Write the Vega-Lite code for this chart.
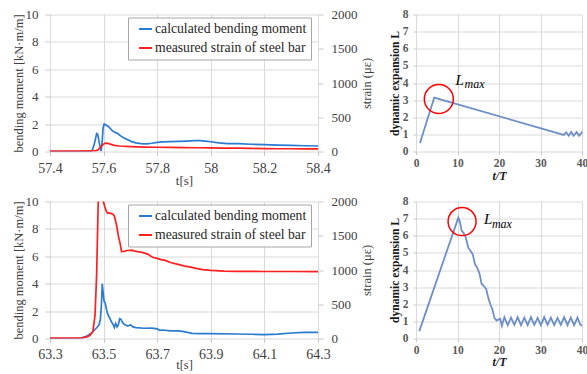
{
  "$schema": "https://vega.github.io/schema/vega-lite/v6.json",
  "background": "white",
  "padding": {"left": 11, "top": 8.5, "right": 0, "bottom": 0},
  "bounds": "flush",
  "align": "each",
  "columns": 2,
  "spacing": {"row": 50, "column": 98},
  "config": {
    "view": {"stroke": null},
    "font": "Liberation Serif",
    "text": {"font": "Liberation Serif"},
    "legend": {"labelFont": "Liberation Serif", "titleFont": "Liberation Serif"},
    "axis": {
      "labelFont": "Liberation Serif",
      "titleFont": "Liberation Serif",
      "gridColor": "#d9d9d9",
      "gridWidth": 1,
      "domain": false,
      "tickColor": "#c8c8c8",
      "tickSize": 4,
      "labelOverlap": false,
      "labelFlush": false,
      "titleFontWeight": "normal",
      "labelColor": "#404040",
      "titleColor": "#404040"
    }
  },
  "datasets": {
    "tl_m": [
      {"t": 57.40, "m": 0}, {"t": 57.50, "m": 0}, {"t": 57.552, "m": 0}, {"t": 57.558, "m": 0.1},
      {"t": 57.564, "m": 0.45}, {"t": 57.569, "m": 0.85}, {"t": 57.574, "m": 1.3}, {"t": 57.578, "m": 1.25},
      {"t": 57.582, "m": 0.85}, {"t": 57.587, "m": 0.3}, {"t": 57.591, "m": 0.02}, {"t": 57.595, "m": 0.8},
      {"t": 57.598, "m": 1.7}, {"t": 57.602, "m": 2.0}, {"t": 57.607, "m": 1.97}, {"t": 57.612, "m": 1.88},
      {"t": 57.618, "m": 1.82}, {"t": 57.625, "m": 1.68}, {"t": 57.632, "m": 1.52}, {"t": 57.64, "m": 1.42},
      {"t": 57.648, "m": 1.36}, {"t": 57.656, "m": 1.26}, {"t": 57.665, "m": 1.12}, {"t": 57.675, "m": 1.0},
      {"t": 57.69, "m": 0.86}, {"t": 57.705, "m": 0.72}, {"t": 57.72, "m": 0.63}, {"t": 57.74, "m": 0.58},
      {"t": 57.76, "m": 0.55}, {"t": 57.78, "m": 0.6}, {"t": 57.80, "m": 0.66}, {"t": 57.82, "m": 0.7},
      {"t": 57.85, "m": 0.72}, {"t": 57.88, "m": 0.74}, {"t": 57.91, "m": 0.76}, {"t": 57.94, "m": 0.79},
      {"t": 57.96, "m": 0.8}, {"t": 57.98, "m": 0.76}, {"t": 58.00, "m": 0.71}, {"t": 58.03, "m": 0.63},
      {"t": 58.06, "m": 0.58}, {"t": 58.10, "m": 0.57}, {"t": 58.15, "m": 0.53}, {"t": 58.20, "m": 0.5},
      {"t": 58.25, "m": 0.47}, {"t": 58.30, "m": 0.45}, {"t": 58.35, "m": 0.42}, {"t": 58.40, "m": 0.4}
    ],
    "tl_s": [
      {"t": 57.40, "s": 5}, {"t": 57.50, "s": 5}, {"t": 57.568, "s": 8}, {"t": 57.578, "s": 20},
      {"t": 57.588, "s": 60}, {"t": 57.597, "s": 100}, {"t": 57.606, "s": 122}, {"t": 57.616, "s": 118},
      {"t": 57.628, "s": 104}, {"t": 57.64, "s": 90}, {"t": 57.66, "s": 80}, {"t": 57.70, "s": 72},
      {"t": 57.75, "s": 65}, {"t": 57.80, "s": 62}, {"t": 57.85, "s": 60}, {"t": 57.90, "s": 56},
      {"t": 57.95, "s": 55}, {"t": 58.00, "s": 52}, {"t": 58.05, "s": 50}, {"t": 58.10, "s": 48},
      {"t": 58.15, "s": 45}, {"t": 58.20, "s": 42}, {"t": 58.25, "s": 40}, {"t": 58.30, "s": 40},
      {"t": 58.35, "s": 38}, {"t": 58.40, "s": 38}
    ],
    "bl_m": [
      {"t": 63.30, "m": 0}, {"t": 63.40, "m": 0}, {"t": 63.42, "m": 0.05}, {"t": 63.44, "m": 0.2},
      {"t": 63.455, "m": 0.4}, {"t": 63.465, "m": 0.6}, {"t": 63.475, "m": 0.8}, {"t": 63.483, "m": 1.0},
      {"t": 63.488, "m": 1.4}, {"t": 63.492, "m": 2.5}, {"t": 63.495, "m": 4.0}, {"t": 63.499, "m": 3.2},
      {"t": 63.502, "m": 2.7}, {"t": 63.506, "m": 2.6}, {"t": 63.51, "m": 2.2}, {"t": 63.515, "m": 1.8},
      {"t": 63.52, "m": 1.6}, {"t": 63.525, "m": 1.4}, {"t": 63.53, "m": 1.2}, {"t": 63.536, "m": 1.0},
      {"t": 63.54, "m": 0.8}, {"t": 63.545, "m": 1.1}, {"t": 63.55, "m": 0.85}, {"t": 63.555, "m": 1.0},
      {"t": 63.56, "m": 1.45}, {"t": 63.565, "m": 1.4}, {"t": 63.57, "m": 1.2}, {"t": 63.575, "m": 1.05},
      {"t": 63.58, "m": 1.0}, {"t": 63.59, "m": 0.9}, {"t": 63.60, "m": 1.0}, {"t": 63.61, "m": 0.85},
      {"t": 63.62, "m": 0.8}, {"t": 63.65, "m": 0.75}, {"t": 63.68, "m": 0.76}, {"t": 63.70, "m": 0.7},
      {"t": 63.71, "m": 0.6}, {"t": 63.72, "m": 0.62}, {"t": 63.75, "m": 0.55}, {"t": 63.78, "m": 0.55},
      {"t": 63.80, "m": 0.5}, {"t": 63.83, "m": 0.38}, {"t": 63.86, "m": 0.35}, {"t": 63.90, "m": 0.35},
      {"t": 64.00, "m": 0.33}, {"t": 64.05, "m": 0.31}, {"t": 64.10, "m": 0.28}, {"t": 64.15, "m": 0.32},
      {"t": 64.20, "m": 0.4}, {"t": 64.25, "m": 0.45}, {"t": 64.30, "m": 0.44}
    ],
    "bl_s": [
      {"t": 63.30, "s": 5}, {"t": 63.40, "s": 5}, {"t": 63.42, "s": 8}, {"t": 63.44, "s": 25},
      {"t": 63.45, "s": 50}, {"t": 63.46, "s": 100}, {"t": 63.468, "s": 340}, {"t": 63.474, "s": 930},
      {"t": 63.48, "s": 2000}, {"t": 63.49, "s": 2700}, {"t": 63.499, "s": 2000}, {"t": 63.504, "s": 1930},
      {"t": 63.51, "s": 1860}, {"t": 63.515, "s": 1830}, {"t": 63.525, "s": 1830}, {"t": 63.535, "s": 1815},
      {"t": 63.54, "s": 1790}, {"t": 63.548, "s": 1660}, {"t": 63.556, "s": 1480}, {"t": 63.561, "s": 1400},
      {"t": 63.567, "s": 1270}, {"t": 63.575, "s": 1272}, {"t": 63.59, "s": 1285}, {"t": 63.605, "s": 1290},
      {"t": 63.62, "s": 1272}, {"t": 63.64, "s": 1260}, {"t": 63.665, "s": 1232}, {"t": 63.675, "s": 1205},
      {"t": 63.685, "s": 1182}, {"t": 63.70, "s": 1170}, {"t": 63.715, "s": 1152}, {"t": 63.73, "s": 1140},
      {"t": 63.75, "s": 1110}, {"t": 63.77, "s": 1090}, {"t": 63.80, "s": 1060}, {"t": 63.82, "s": 1045},
      {"t": 63.85, "s": 1020}, {"t": 63.87, "s": 1005}, {"t": 63.90, "s": 995}, {"t": 63.95, "s": 985},
      {"t": 64.00, "s": 980}, {"t": 64.10, "s": 978}, {"t": 64.20, "s": 978}, {"t": 64.30, "s": 975}
    ],
    "tr": [
      {"x": 0.96, "L": 0.5}, {"x": 4.4, "L": 3.15}, {"x": 35.6, "L": 0.97}, {"x": 36.2, "L": 1.12},
      {"x": 36.8, "L": 0.92}, {"x": 37.4, "L": 1.14}, {"x": 38.0, "L": 0.92}, {"x": 38.7, "L": 1.14},
      {"x": 39.3, "L": 0.92}, {"x": 39.9, "L": 1.1}, {"x": 40, "L": 1.05}
    ],
    "br": [
      {"x": 0.8, "L": 0.43}, {"x": 10.2, "L": 7.06}, {"x": 10.6, "L": 6.8}, {"x": 11.0, "L": 6.3},
      {"x": 11.5, "L": 6.15}, {"x": 12.0, "L": 5.9}, {"x": 12.6, "L": 5.3}, {"x": 13.2, "L": 5.1},
      {"x": 13.7, "L": 4.9}, {"x": 14.2, "L": 4.35}, {"x": 14.8, "L": 4.1}, {"x": 15.3, "L": 3.8},
      {"x": 15.8, "L": 3.2}, {"x": 16.4, "L": 3.05}, {"x": 16.9, "L": 2.9}, {"x": 17.4, "L": 2.4},
      {"x": 17.9, "L": 2.0}, {"x": 18.4, "L": 1.7}, {"x": 18.9, "L": 1.2}, {"x": 19.4, "L": 1.05},
      {"x": 19.8, "L": 1.1}, {"x": 20.3, "L": 1.15}, {"x": 20.7, "L": 0.75}, {"x": 21.3, "L": 1.25},
      {"x": 22.1, "L": 0.78}, {"x": 22.9, "L": 1.22}, {"x": 23.7, "L": 0.8}, {"x": 24.5, "L": 1.25},
      {"x": 25.3, "L": 0.78}, {"x": 26.1, "L": 1.22}, {"x": 26.9, "L": 0.78}, {"x": 27.7, "L": 1.25},
      {"x": 28.5, "L": 0.8}, {"x": 29.3, "L": 1.2}, {"x": 30.1, "L": 0.78}, {"x": 30.9, "L": 1.25},
      {"x": 31.7, "L": 0.8}, {"x": 32.5, "L": 1.22}, {"x": 33.3, "L": 0.78}, {"x": 34.1, "L": 1.2},
      {"x": 34.9, "L": 0.8}, {"x": 35.7, "L": 1.25}, {"x": 36.5, "L": 0.78}, {"x": 37.3, "L": 1.22},
      {"x": 38.1, "L": 0.78}, {"x": 38.9, "L": 1.22}, {"x": 39.6, "L": 0.8}, {"x": 40, "L": 0.75}
    ],
    "tr_circle": [{"x": 5.5, "L": 3.07}],
    "tr_L": [{"x": 9.5, "L": 3.88, "label": "L"}],
    "tr_max": [{"x": 11.7, "L": 3.7, "label": "max"}],
    "br_circle": [{"x": 11.1, "L": 6.83}],
    "br_L": [{"x": 16.4, "L": 6.66, "label": "L"}],
    "br_max": [{"x": 18.3, "L": 6.48, "label": "max"}]
  },
  "resolve": {"scale": {"color": "independent"}, "legend": {"color": "independent"}},
  "concat": [
    {
      "width": 268, "height": 137,
      "layer": [
        {
          "data": {"name": "tl_m"},
          "mark": {"type": "line", "clip": true, "strokeWidth": 1.7},
          "encoding": {
            "x": {"field": "t", "type": "quantitative", "scale": {"domain": [57.4, 58.4], "nice": false},
                  "axis": {"values": [57.4, 57.6, 57.8, 58, 58.2, 58.4], "format": "~g", "title": "t[s]", "labelOverlap": false, "labelFlush": false,
                           "labelFontSize": 14, "labelPadding": 6, "titleFontSize": 13, "titlePadding": -1}},
            "y": {"field": "m", "type": "quantitative", "scale": {"domain": [0, 10], "nice": false},
                  "axis": {"values": [0, 2, 4, 6, 8, 10], "title": "bending moment [kN·m/m]", "labelOverlap": false,
                           "labelFontSize": 13, "labelPadding": 7, "tickSize": 5, "titleFontSize": 12.5, "titlePadding": 0}},
            "color": {"datum": "calculated bending moment", "type": "nominal",
                      "scale": {"domain": ["calculated bending moment", "measured strain of steel bar"], "range": ["#2a7bd1", "#ff1f1f"]},
                      "legend": {"orient": "none", "legendX": 78, "legendY": 3, "title": null, "strokeColor": "#a6a6a6", "fillColor": "white",
                                 "padding": 4, "labelFont": "Liberation Serif", "labelFontSize": 13.7, "labelColor": "#262626",
                                 "symbolType": "stroke", "symbolSize": 169, "symbolStrokeWidth": 2, "rowPadding": 4, "labelOffset": 2, "symbolOffset": 6}}
          }
        },
        {
          "data": {"name": "tl_s"},
          "mark": {"type": "line", "clip": true, "strokeWidth": 1.7},
          "encoding": {
            "x": {"field": "t", "type": "quantitative"},
            "y": {"field": "s", "type": "quantitative", "scale": {"domain": [0, 2000], "nice": false},
                  "axis": {"orient": "right", "grid": false, "values": [0, 500, 1000, 1500, 2000], "format": "d", "title": "strain (με)", "labelOverlap": false,
                           "labelFontSize": 13, "labelPadding": 8, "tickSize": 5, "titleFontSize": 12.5, "titlePadding": 3, "titleAngle": 270, "titleBaseline": "top"}},
            "color": {"datum": "measured strain of steel bar", "type": "nominal"}
          }
        }
      ],
      "resolve": {"scale": {"y": "independent"}}
    },
    {
      "width": 166, "height": 137,
      "encoding": {
        "x": {"field": "x", "type": "quantitative", "scale": {"domain": [0, 40], "nice": false},
              "axis": {"values": [0, 10, 20, 30, 40], "title": "t/T", "labelOverlap": false, "labelFlush": false,
                       "labelFontSize": 11.5, "labelFontWeight": "bold", "labelColor": "#595959",
                       "labelPadding": 3, "tickSize": 3, "titleFontSize": 12, "titleFontWeight": "bold", "titleFontStyle": "italic", "titleColor": "#1a1a1a", "titlePadding": 1}},
        "y": {"field": "L", "type": "quantitative", "scale": {"domain": [0, 8], "nice": false},
              "axis": {"values": [0, 1, 2, 3, 4, 5, 6, 7, 8], "title": "dynamic expansion L", "labelOverlap": false,
                       "labelFontSize": 11.5, "labelFontWeight": "bold", "labelColor": "#595959",
                       "labelPadding": 5, "tickSize": 3, "titleFontSize": 11.5, "titleFontWeight": "bold", "titleColor": "#1a1a1a", "titlePadding": 1.5}}
      },
      "layer": [
        {"data": {"name": "tr"}, "mark": {"type": "line", "color": "#6d8fc4", "strokeWidth": 1.8}},
        {"data": {"name": "tr_circle"}, "mark": {"type": "point", "shape": "circle", "size": 841, "filled": false, "color": "#ff0000", "strokeWidth": 1.5, "opacity": 1}},
        {"data": {"name": "tr_L"}, "mark": {"type": "text", "font": "Liberation Serif", "fontStyle": "italic", "fontSize": 15, "align": "left", "baseline": "alphabetic", "color": "#000000"},
         "encoding": {"text": {"field": "label"}}},
        {"data": {"name": "tr_max"}, "mark": {"type": "text", "font": "Liberation Serif", "fontStyle": "italic", "fontSize": 12, "align": "left", "baseline": "alphabetic", "color": "#000000"},
         "encoding": {"text": {"field": "label"}}}
      ]
    },
    {
      "width": 268, "height": 137,
      "layer": [
        {
          "data": {"name": "bl_m"},
          "mark": {"type": "line", "clip": true, "strokeWidth": 1.7},
          "encoding": {
            "x": {"field": "t", "type": "quantitative", "scale": {"domain": [63.3, 64.3], "nice": false},
                  "axis": {"values": [63.3, 63.5, 63.7, 63.9, 64.1, 64.3], "format": "~g", "title": "t[s]", "labelOverlap": false, "labelFlush": false,
                           "labelFontSize": 14, "labelPadding": 5, "titleFontSize": 12.5, "titlePadding": -3}},
            "y": {"field": "m", "type": "quantitative", "scale": {"domain": [0, 10], "nice": false},
                  "axis": {"values": [0, 2, 4, 6, 8, 10], "title": "bending moment [kN·m/m]", "labelOverlap": false,
                           "labelFontSize": 13, "labelPadding": 7, "tickSize": 5, "titleFontSize": 12.5, "titlePadding": 0}},
            "color": {"datum": "calculated bending moment", "type": "nominal",
                      "scale": {"domain": ["calculated bending moment", "measured strain of steel bar"], "range": ["#2a7bd1", "#ff1f1f"]},
                      "legend": {"orient": "none", "legendX": 78, "legendY": 3, "title": null, "strokeColor": "#a6a6a6", "fillColor": "white",
                                 "padding": 4, "labelFont": "Liberation Serif", "labelFontSize": 13.7, "labelColor": "#262626",
                                 "symbolType": "stroke", "symbolSize": 169, "symbolStrokeWidth": 2, "rowPadding": 4, "labelOffset": 2, "symbolOffset": 6}}
          }
        },
        {
          "data": {"name": "bl_s"},
          "mark": {"type": "line", "clip": true, "strokeWidth": 1.7},
          "encoding": {
            "x": {"field": "t", "type": "quantitative"},
            "y": {"field": "s", "type": "quantitative", "scale": {"domain": [0, 2000], "nice": false},
                  "axis": {"orient": "right", "grid": false, "values": [0, 500, 1000, 1500, 2000], "format": "d", "title": "strain (με)", "labelOverlap": false,
                           "labelFontSize": 13, "labelPadding": 8, "tickSize": 5, "titleFontSize": 12.5, "titlePadding": 3, "titleAngle": 270, "titleBaseline": "top"}},
            "color": {"datum": "measured strain of steel bar", "type": "nominal"}
          }
        }
      ],
      "resolve": {"scale": {"y": "independent"}}
    },
    {
      "width": 166, "height": 137,
      "encoding": {
        "x": {"field": "x", "type": "quantitative", "scale": {"domain": [0, 40], "nice": false},
              "axis": {"values": [0, 10, 20, 30, 40], "title": "t/T", "labelOverlap": false, "labelFlush": false,
                       "labelFontSize": 11.5, "labelFontWeight": "bold", "labelColor": "#595959",
                       "labelPadding": 3, "tickSize": 3, "titleFontSize": 12, "titleFontWeight": "bold", "titleFontStyle": "italic", "titleColor": "#1a1a1a", "titlePadding": 0}},
        "y": {"field": "L", "type": "quantitative", "scale": {"domain": [0, 8], "nice": false},
              "axis": {"values": [0, 1, 2, 3, 4, 5, 6, 7, 8], "title": "dynamic expansion L", "labelOverlap": false,
                       "labelFontSize": 11.5, "labelFontWeight": "bold", "labelColor": "#595959",
                       "labelPadding": 5, "tickSize": 3, "titleFontSize": 11.5, "titleFontWeight": "bold", "titleColor": "#1a1a1a", "titlePadding": 1.5}}
      },
      "layer": [
        {"data": {"name": "br"}, "mark": {"type": "line", "color": "#6d8fc4", "strokeWidth": 1.8}},
        {"data": {"name": "br_circle"}, "mark": {"type": "point", "shape": "circle", "size": 784, "filled": false, "color": "#ff0000", "strokeWidth": 1.5, "opacity": 1}},
        {"data": {"name": "br_L"}, "mark": {"type": "text", "font": "Liberation Serif", "fontStyle": "italic", "fontSize": 15, "align": "left", "baseline": "alphabetic", "color": "#000000"},
         "encoding": {"text": {"field": "label"}}},
        {"data": {"name": "br_max"}, "mark": {"type": "text", "font": "Liberation Serif", "fontStyle": "italic", "fontSize": 12, "align": "left", "baseline": "alphabetic", "color": "#000000"},
         "encoding": {"text": {"field": "label"}}}
      ]
    }
  ]
}
